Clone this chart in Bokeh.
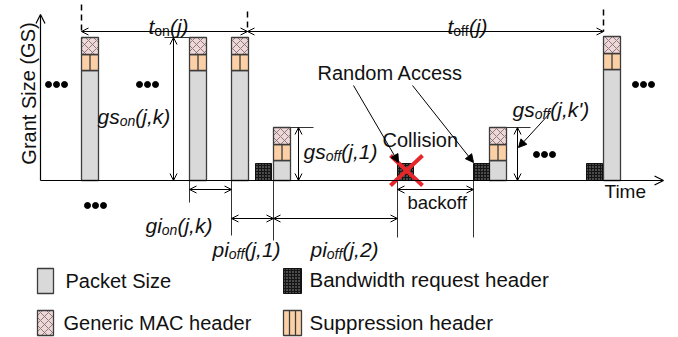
from bokeh.plotting import figure
from bokeh.models import Range1d, Arrow, OpenHead, NormalHead
from bokeh.core.properties import value
from bokeh.embed import file_html
from bokeh.resources import INLINE

# ---------------- data (time on x, grant size on y, axis at gs = 0) ----------------
bar_t = [81, 189, 231, 273, 489, 603]          # grant start times
bar_gs = [143, 143, 143, 53, 53, 144]          # grant sizes
bar_w = 17                                     # grant duration
mac_hdr = 17                                   # generic MAC header size
sup_hdr = 16                                   # suppression header size
bw_t = [255, 397, 473, 586]                    # bandwidth request header times
bw_gs = 17                                     # bandwidth request header size
t_on_start, t_on_end, t_off_end = 81, 247, 603
legend_labels = ["Packet Size", "Bandwidth request header", "Generic MAC header", "Suppression header"]

FONT = value("Liberation Sans")
GRAY, MAC, SUP = "#d9d9d9", "#f0d6d6", "#fcd0a6"
EDGE = "#3c3c3c"


def Y(py):  # picture row -> grant size coordinate
    return 180 - py


p = figure(width=678, height=337, x_range=Range1d(0, 678), y_range=Range1d(Y(337), Y(0)),
           x_axis_type=None, y_axis_type=None, toolbar_location=None,
           output_backend="svg", min_border=0, outline_line_color=None)
p.xgrid.visible = False
p.ygrid.visible = False

# ---------------- bars ----------------
lefts = bar_t
rights = [t + bar_w for t in bar_t]
gray_top = [g - mac_hdr - sup_hdr for g in bar_gs]
sup_top = [g - mac_hdr for g in bar_gs]
p.quad(left=lefts, right=rights, bottom=[0] * len(bar_t), top=gray_top,
       fill_color=GRAY, line_color=EDGE, line_width=1.3)
p.quad(left=lefts, right=rights, bottom=gray_top, top=sup_top,
       fill_color=SUP, line_color=EDGE, line_width=1.3)
p.segment(x0=[t + bar_w / 2 for t in bar_t], y0=gray_top,
          x1=[t + bar_w / 2 for t in bar_t], y1=sup_top, line_color=EDGE, line_width=1.3)
p.quad(left=lefts, right=rights, bottom=sup_top, top=bar_gs,
       fill_color=MAC, line_color=EDGE, line_width=1.3,
       hatch_pattern="x", hatch_color="#6a6a6a", hatch_scale=8, hatch_weight=0.8)
p.quad(left=bw_t, right=[t + bar_w - 1 for t in bw_t], bottom=[0] * len(bw_t), top=[bw_gs] * len(bw_t),
       fill_color="#151515", line_color="#111111", line_width=1,
       hatch_pattern=".", hatch_color="#9a9a9a", hatch_scale=3, hatch_weight=1)

# ---------------- axes ----------------
ax_head = dict(size=9, line_width=1.2)
p.add_layout(Arrow(end=OpenHead(**ax_head), x_start=40, y_start=0, x_end=40, y_end=Y(14), line_width=1.2))
p.add_layout(Arrow(end=OpenHead(**ax_head), x_start=40, y_start=0, x_end=663, y_end=0, line_width=1.2))

# ---------------- dimension arrows ----------------
def dim(x0, y0, x1, y1):
    p.add_layout(Arrow(start=OpenHead(size=7, line_width=1), end=OpenHead(size=7, line_width=1),
                       x_start=x0, y_start=y0, x_end=x1, y_end=y1, line_width=1))


dim(t_on_start, Y(31), t_on_end, Y(31))
dim(t_on_end, Y(31), t_off_end, Y(31))
dim(173, bar_gs[0], 173, 0)
dim(298, bar_gs[3], 298, 0)
dim(517, bar_gs[4], 517, 0)
dim(bar_t[1], Y(189), bar_t[2], Y(189))
dim(bar_t[2], Y(218), bar_t[3], Y(218))
dim(bar_t[3], Y(218), bw_t[1], Y(218))
dim(bw_t[1], Y(189), bw_t[2], Y(189))

# dashed period markers
p.segment(x0=[t_on_start, t_on_end, t_off_end], y0=[Y(4), Y(11), Y(9)],
          x1=[t_on_start, t_on_end, t_off_end], y1=[Y(31), Y(31), Y(31)],
          line_color="black", line_width=1.5, line_dash="6 4")
# reference / extension lines
p.segment(x0=[164, 289, 506, bar_t[1], bar_t[2], bar_t[3], bw_t[1], bw_t[2]],
          y0=[bar_gs[0], bar_gs[3], bar_gs[4], 0, 0, 0, 0, 0],
          x1=[bar_t[1], 313, 530, bar_t[1], bar_t[2], bar_t[3], bw_t[1], bw_t[2]],
          y1=[bar_gs[0], bar_gs[3], bar_gs[4], Y(202), Y(235), Y(240), Y(237), Y(237)],
          line_color="#333333", line_width=1)

# pointer arrows
for (x0, y0, x1, y1) in [(353, 85, 398, 162), (412, 85, 473, 162), (550, 112, 518, 147)]:
    p.add_layout(Arrow(end=NormalHead(size=8, fill_color="black", line_color="black"),
                       x_start=x0, y_start=Y(y0), x_end=x1, y_end=Y(y1), line_width=1))

# collision cross
p.segment(x0=[390, 422], y0=[Y(155), Y(155)], x1=[422, 390], y1=[Y(185), Y(185)],
          line_color="#e5262b", line_width=4)

# ellipsis dots
dots_x, dots_y = [], []
for cx, cy in [(56, 84), (147, 84), (95, 205), (643, 84), (544, 154)]:
    for dx in (-8, 0, 8):
        dots_x.append(cx + dx)
        dots_y.append(Y(cy))
p.scatter(dots_x, dots_y, size=6, color="black")

# ---------------- texts ----------------
W = {'a': .556, 'b': .556, 'c': .5, 'd': .556, 'e': .556, 'f': .278, 'g': .556, 'i': .222, 'j': .222,
     'k': .5, 'l': .222, 'm': .833, 'n': .556, 'o': .556, 'p': .556, 'r': .333, 's': .5, 't': .278,
     'u': .556, 'w': .722, 'z': .5, '(': .333, ')': .333, ',': .278, "'": .191, '1': .556, '2': .556, ' ': .278}


def tw(s, size):
    return sum(W.get(c, .55) for c in s) * size


def txt(x, y, s, size, style="normal", align="left", baseline="alphabetic", angle=0):
    p.text(x=[x], y=[y], text=[s], text_font=FONT, text_font_size=f"{size}px", text_font_style=style,
           text_align=align, text_baseline=baseline, angle=angle, text_color="#111111")


def sub_label(x, py, main, sub, rest, sub_style="italic", size=21, subsize=14):
    x1 = x + tw(main, size)
    x2 = x1 + tw(sub, subsize)
    txt(x, Y(py), main, size, "italic")
    txt(x1, Y(py + 4), sub, subsize, sub_style)
    txt(x2, Y(py), rest, size, "italic")


sub_label(148, 26, "t", "on", "(j)", sub_style="normal")
sub_label(447, 26, "t", "off", "(j)", sub_style="normal")
sub_label(97, 116, "gs", "on", "(j,k)")
sub_label(303, 151, "gs", "off", "(j,1)")
sub_label(512, 109, "gs", "off", "(j,k')")
sub_label(145, 225, "gi", "on", "(j,k)")
sub_label(212, 249, "pi", "off", "(j,1)")
sub_label(310, 249, "pi", "off", "(j,2)")

txt(28, Y(93), "Grant Size (GS)", 20, align="center", baseline="middle", angle=1.5708)
txt(317, Y(72), "Random Access", 20, baseline="middle")
txt(382, Y(139), "Collision", 20, baseline="middle")
txt(604, Y(191), "Time", 19, baseline="middle")
txt(407, Y(202), "backoff", 18.5, baseline="middle")

# ---------------- legend ----------------
p.quad(left=[37], right=[53], bottom=[Y(293)], top=[Y(268)], fill_color=GRAY, line_color=EDGE, line_width=1.3)
p.quad(left=[283], right=[301], bottom=[Y(293)], top=[Y(268)], fill_color="#151515", line_color="#111111",
       hatch_pattern=".", hatch_color="#9a9a9a", hatch_scale=3, hatch_weight=1)
p.quad(left=[37], right=[53], bottom=[Y(335)], top=[Y(310)], fill_color=MAC, line_color=EDGE, line_width=1.3,
       hatch_pattern="x", hatch_color="#6a6a6a", hatch_scale=8, hatch_weight=0.8)
p.quad(left=[283], right=[301], bottom=[Y(335)], top=[Y(310)], fill_color=SUP, line_color=EDGE, line_width=1.3)
p.segment(x0=[289, 295], y0=[Y(335)] * 2, x1=[289, 295], y1=[Y(310)] * 2, line_color=EDGE, line_width=1.3)

txt(65, Y(280), legend_labels[0], 20, baseline="middle")
txt(309, Y(279), legend_labels[1], 20.5, baseline="middle")
txt(63, Y(322), legend_labels[2], 20, baseline="middle")
txt(309, Y(322), legend_labels[3], 20.5, baseline="middle")

open("out.html", "w").write(file_html(p, INLINE))
